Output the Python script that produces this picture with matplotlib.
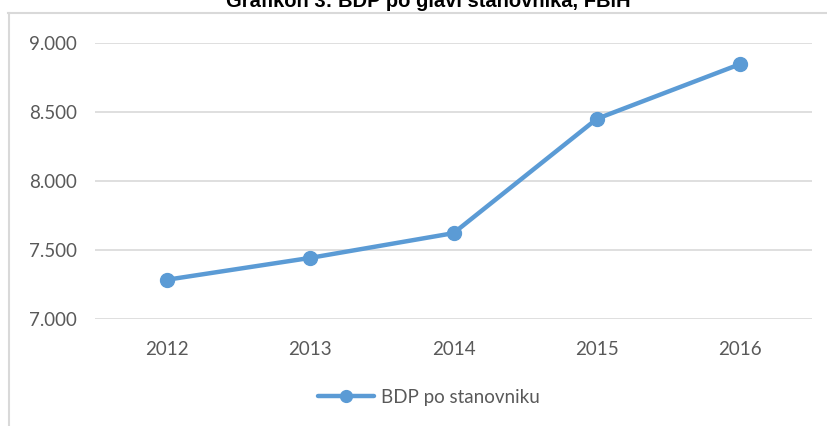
import matplotlib.pyplot as plt
from matplotlib.lines import Line2D

# podaci
years = ["2012", "2013", "2014", "2015", "2016"]
bdp = [7282, 7441, 7621, 8452, 8850]
yticks = [7000, 7500, 8000, 8500, 9000]
ylabels = ["7.000", "7.500", "8.000", "8.500", "9.000"]

blue = "#5B9BD5"
grey_txt = "#595959"
fs = 13.5

fig = plt.figure(figsize=(8.27, 4.26), dpi=100)
ax = fig.add_axes([95 / 827, 1 - 319 / 426, (812 - 95) / 827, (319 - 43) / 426])

ax.plot(range(len(years)), bdp, color=blue, linewidth=3.2, marker="o",
        markersize=10, label="BDP po stanovniku", solid_capstyle="round")

ax.set_xlim(-0.5, len(years) - 0.5)
ax.set_ylim(6997, 9003)
ax.set_xticks(range(len(years)))
ax.set_xticklabels(years)
ax.set_yticks(yticks)
ax.set_yticklabels(ylabels)
ax.tick_params(axis="both", length=0, labelsize=fs, labelcolor=grey_txt)
ax.tick_params(axis="y", pad=13)
ax.tick_params(axis="x", pad=16)
for lbl in ax.get_xticklabels() + ax.get_yticklabels():
    lbl.set_family("Lato")

ax.grid(axis="y", color="#D9D9D9", linewidth=1.2)
ax.set_axisbelow(True)
for s in ax.spines.values():
    s.set_visible(False)

# okvir grafikona (gornja i lijeva linija)
fig.add_artist(Line2D([8 / 827, 1], [1 - 13 / 426, 1 - 13 / 426], color="#D9D9D9",
                      linewidth=1.5, transform=fig.transFigure))
fig.add_artist(Line2D([9 / 827, 9 / 827], [0, 1 - 13 / 426], color="#D9D9D9",
                      linewidth=1.5, transform=fig.transFigure))

# naslov (odrezan na vrhu, kao u originalu)
fig.text(428 / 827, 1 - 7 / 426, "Grafikon 3: BDP po glavi stanovnika, FBiH",
         ha="center", va="baseline", fontsize=14.5, fontweight="bold",
         family="Liberation Sans", color="black")

leg = fig.legend(loc="center", bbox_to_anchor=(429 / 827, 1 - 397 / 426),
                 frameon=False, prop={"family": "Lato", "size": fs},
                 handlelength=3.0, handletextpad=0.35, markerscale=0.85)
for t in leg.get_texts():
    t.set_color(grey_txt)

fig.savefig("out.png", dpi=100)
